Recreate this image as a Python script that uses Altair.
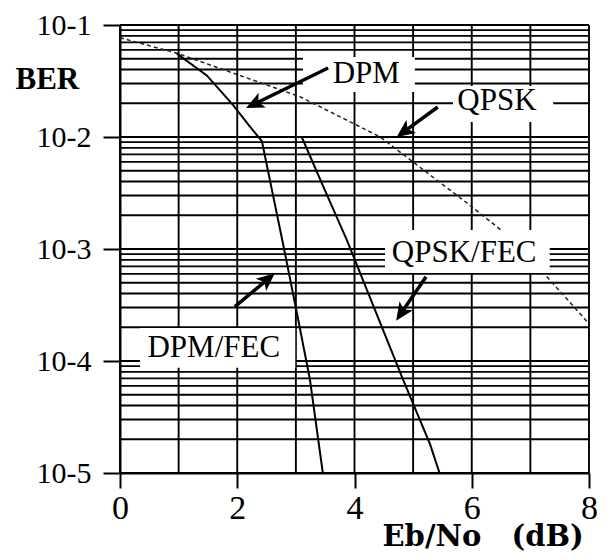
import math
import altair as alt
import pandas as pd

# ---------------- data ----------------
qpsk_x = [0.0, 0.97, 3.07, 4.44, 5.95, 6.57, 7.29, 7.97]
qpsk_y = [0.077, 0.056, 0.0229, 0.0100, 0.0025, 0.00138, 0.00056, 0.000224]

dpm_x = [0.97, 1.48, 1.93, 2.22, 2.42]
dpm_y = [0.0555, 0.0355, 0.0193, 0.0123, 0.0092]

dpmfec_x = [2.42, 2.60, 2.78, 3.04, 3.24, 3.46]
dpmfec_y = [0.0092, 0.0032, 0.00112, 0.000234, 0.000068, 0.00001]

qpskfec_x = [3.10, 3.50, 3.87, 4.83, 5.29, 5.45]
qpskfec_y = [0.0100, 0.0033, 0.0012, 0.000068, 0.000018, 0.00001]

x_ticks = [0, 2, 4, 6, 8]
x_grid = [0, 1, 2, 3, 4, 5, 6, 7, 8]
y_ticks = [1e-1, 1e-2, 1e-3, 1e-4, 1e-5]
y_tick_labels = ["10-1", "10-2", "10-3", "10-4", "10-5"]
y_decades = [-5, -4, -3, -2]
y_mantissas = [1, 2, 3, 4, 5, 6, 7, 8, 9]

label_text = ["DPM", "QPSK", "QPSK/FEC", "DPM/FEC"]
label_x = [4.20, 6.43, 5.87, 1.60]
label_y = [10 ** -1.518, 10 ** -1.759, 10 ** -3.116, 10 ** -3.964]
box_x0 = [3.12, 5.68, 4.52, 0.34]
box_x1 = [5.03, 7.39, 7.33, 2.99]
box_y0 = [10 ** -1.286, 10 ** -1.545, 10 ** -2.83, 10 ** -3.705]
box_y1 = [10 ** -1.598, 10 ** -1.866, 10 ** -3.214, 10 ** -4.06]

arrow_tx = [3.55, 5.42, 1.96, 5.22]
arrow_ty = [10 ** -1.384, 10 ** -1.732, 10 ** -3.515, 10 ** -3.247]
arrow_hx = [2.15, 4.72, 2.64, 4.71]
arrow_hy = [10 ** -1.741, 10 ** -2.00, 10 ** -3.217, 10 ** -3.64]

# ---------------- layout ----------------
W, H = 469, 448
X_MIN, X_MAX = 0, 8
Y_MIN, Y_MAX = 1e-5, 1e-1
FONT = "Liberation Serif"
TITLE_FONT = "DejaVu Serif"
PX_X = W / (X_MAX - X_MIN)
PX_DEC = H / (math.log10(Y_MAX) - math.log10(Y_MIN))

xs = alt.Scale(domain=[X_MIN, X_MAX], nice=False, zero=False)
ys = alt.Scale(type="log", domain=[Y_MIN, Y_MAX], nice=False)

y_grid = [m * 10 ** d for d in y_decades for m in y_mantissas] + [Y_MAX]

label_expr = "[" + ",".join("'%s'" % s for s in y_tick_labels) + "][round(-log(datum.value)/LN10)-1]"

XA = alt.Axis(
    values=x_ticks, grid=False, tickSize=15, tickWidth=2, tickColor="black",
    domainColor="black", domainWidth=2, labelFont=FONT, labelFontSize=34,
    labelColor="black", labelPadding=3, labelFlush=False,
    title="Eb/No\u00a0\u00a0\u00a0(dB)", titleFont=TITLE_FONT, titleFontSize=29,
    titleFontWeight="bold", titleColor="black", titleAlign="left",
    titleAnchor="start", titleBaseline="alphabetic", titleX=262, titleY=72,
)
YA = alt.Axis(
    values=y_ticks, grid=False, tickSize=17, tickWidth=2, tickColor="black",
    domainColor="black", domainWidth=2, labelFont=FONT, labelFontSize=30,
    labelColor="black", labelPadding=12, labelExpr=label_expr,
    labelBaseline="middle", labelFlush=False,
    title="BER", titleFont=FONT, titleFontSize=31, titleFontWeight="bold",
    titleColor="black", titleAngle=0, titleAlign="left",
    titleBaseline="alphabetic", titleX=-105, titleY=63,
)


def X(field):
    return alt.X(field, scale=xs, axis=XA)


def Y(field):
    return alt.Y(field, scale=ys, axis=YA)


vgrid = alt.Chart(pd.DataFrame({"x": x_grid})).mark_rule(
    color="black", strokeWidth=1.9
).encode(x=X("x:Q"))

hgrid = alt.Chart(pd.DataFrame({"y": y_grid})).mark_rule(
    color="black", strokeWidth=1.9
).encode(y=Y("y:Q"))


def curve(xv, yv, dash=None, width=2.0, color="black"):
    kw = dict(color=color, strokeWidth=width, clip=True)
    if dash:
        kw["strokeDash"] = dash
    df = pd.DataFrame({"x": xv, "y": yv, "order": list(range(len(xv)))})
    return alt.Chart(df).mark_line(**kw).encode(
        x=X("x:Q"), y=Y("y:Q"), order="order:Q",
    )


qpsk = curve(qpsk_x, qpsk_y, dash=[4, 3], width=1.5, color="#222")
dpm = curve(dpm_x, dpm_y)
dpmfec = curve(dpmfec_x, dpmfec_y)
qpskfec = curve(qpskfec_x, qpskfec_y)

boxes = alt.Chart(pd.DataFrame({
    "x0": box_x0, "x1": box_x1, "y0": box_y0, "y1": box_y1
})).mark_rect(fill="white").encode(
    x=X("x0:Q"), x2="x1:Q", y=Y("y0:Q"), y2="y1:Q",
)

labels = alt.Chart(pd.DataFrame({
    "x": label_x, "y": label_y, "t": label_text
})).mark_text(
    font=FONT, fontSize=31, align="center", baseline="alphabetic", color="black"
).encode(x=X("x:Q"), y=Y("y:Q"), text="t:N")

# arrows: shafts end a little before the tip; heads rotated in screen space
HEAD_LEN = 18
rows = []
for tx, ty, hx, hy in zip(arrow_tx, arrow_ty, arrow_hx, arrow_hy):
    dx = (hx - tx) * PX_X
    dy = -(math.log10(hy) - math.log10(ty)) * PX_DEC
    ln = math.hypot(dx, dy)
    ux, uy = dx / ln, dy / ln
    back = HEAD_LEN * 0.7
    sx = hx - back * ux / PX_X
    sy = 10 ** (math.log10(hy) + back * uy / PX_DEC)
    ang = math.degrees(math.atan2(dx, -dy)) % 360
    rows.append({"tx": tx, "ty": ty, "sx": sx, "sy": sy, "hx": hx, "hy": hy, "ang": ang})
arrows_df = pd.DataFrame(rows)

shafts = alt.Chart(arrows_df).mark_rule(color="black", strokeWidth=3.5).encode(
    x=X("tx:Q"), x2="sx:Q", y=Y("ty:Q"), y2="sy:Q",
)

heads = alt.Chart(arrows_df).mark_point(
    shape="M0,0 L0.45,1 L0,0.75 L-0.45,1 Z", filled=True, color="black",
    opacity=1, size=(2 * HEAD_LEN) ** 2, strokeWidth=0,
).encode(
    x=X("hx:Q"), y=Y("hy:Q"), angle=alt.Angle("ang:Q", scale=None),
)

chart = alt.layer(
    vgrid, hgrid, qpsk, dpm, dpmfec, qpskfec, boxes, labels, shafts, heads
).properties(
    width=W, height=H,
    autosize=alt.AutoSizeParams(type="none"),
    padding={"left": 112, "top": 17, "right": 14, "bottom": 79},
).configure(
    background="white", font=FONT,
    style={"guide-label": {"font": FONT}, "guide-title": {"font": FONT}},
).configure_text(font=FONT).configure_view(stroke=None)

chart.save("out.html", embed_options={"renderer": "svg", "actions": False})
